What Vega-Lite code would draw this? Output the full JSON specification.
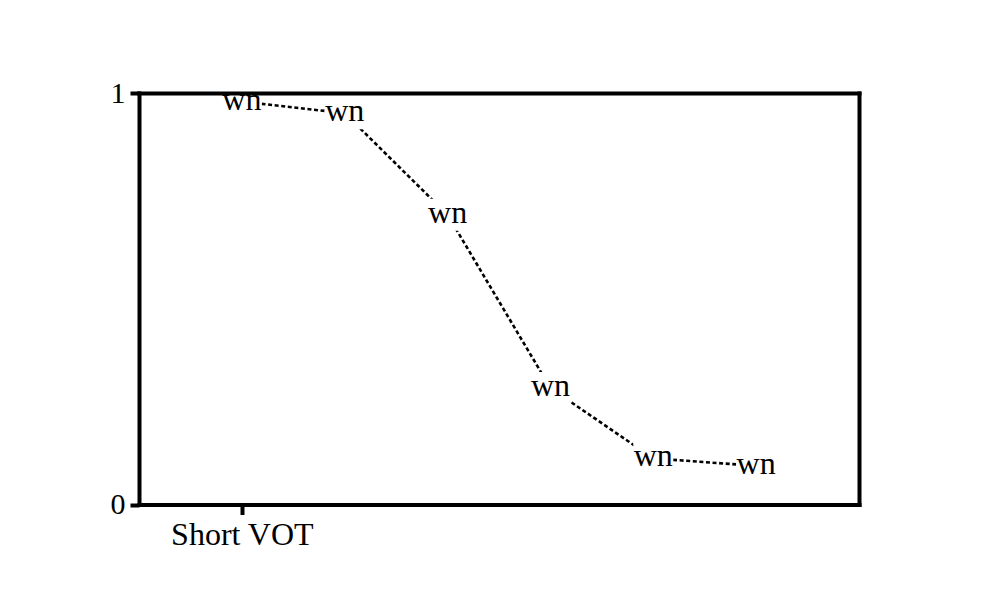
{
  "$schema": "https://vega.github.io/schema/vega-lite/v6.json",
  "width": 720,
  "height": 411.5,
  "autosize": "none",
  "padding": {"left": 139, "top": 93, "right": 141, "bottom": 95.5},
  "background": "white",
  "config": {"view": {"stroke": null}, "font": "Liberation Serif"},
  "data": {
    "values": [
      {"x": 1, "p": 0.979, "label": "wn"},
      {"x": 2, "p": 0.951, "label": "wn"},
      {"x": 3, "p": 0.704, "label": "wn"},
      {"x": 4, "p": 0.283, "label": "wn"},
      {"x": 5, "p": 0.112, "label": "wn"},
      {"x": 6, "p": 0.094, "label": "wn"}
    ]
  },
  "layer": [
    {
      "mark": {"type": "line", "color": "black", "strokeDash": [4, 2.6], "strokeWidth": 2.6},
      "encoding": {
        "x": {
          "field": "x", "type": "quantitative",
          "scale": {"domain": [0, 7], "nice": false, "zero": false},
          "axis": {
            "orient": "bottom", "values": [1], "labelExpr": "'Short VOT'",
            "title": null, "grid": false, "zindex": 1,
            "domainColor": "black", "domainWidth": 4, "domainCap": "square",
            "tickColor": "black", "tickWidth": 4, "tickSize": 10,
            "labelFont": "Liberation Serif", "labelFontSize": 32, "labelColor": "black",
            "labelPadding": 5, "labelFlush": false
          }
        },
        "y": {
          "field": "p", "type": "quantitative",
          "scale": {"domain": [0, 1], "nice": false},
          "axis": {
            "orient": "left", "values": [0, 1], "format": "d",
            "title": null, "grid": false, "zindex": 1,
            "domainColor": "black", "domainWidth": 4, "domainCap": "square",
            "tickColor": "black", "tickWidth": 4, "tickSize": 9,
            "labelFont": "Liberation Serif", "labelFontSize": 30, "labelColor": "black",
            "labelPadding": 5, "labelFlush": false
          }
        }
      }
    },
    {
      "mark": {"type": "point", "shape": "M-1,-0.8L1,-0.8L1,0.8L-1,0.8Z", "filled": true, "color": "white", "opacity": 1, "size": 1600, "strokeWidth": 0},
      "encoding": {
        "x": {
          "field": "x", "type": "quantitative",
          "axis": {"orient": "top", "labels": false, "ticks": false, "title": null, "grid": false, "zindex": 1,
                   "domainColor": "black", "domainWidth": 4, "domainCap": "square"}
        },
        "y": {
          "field": "p", "type": "quantitative",
          "axis": {"orient": "right", "labels": false, "ticks": false, "title": null, "grid": false, "zindex": 1,
                   "domainColor": "black", "domainWidth": 4, "domainCap": "square"}
        }
      }
    },
    {
      "mark": {"type": "text", "fontSize": 32, "font": "Liberation Serif", "color": "black", "dy": -2, "align": "center", "baseline": "middle"},
      "encoding": {
        "x": {"field": "x", "type": "quantitative", "axis": null},
        "y": {"field": "p", "type": "quantitative", "axis": null},
        "text": {"field": "label"}
      }
    }
  ],
  "resolve": {"axis": {"x": "independent", "y": "independent"}}
}
